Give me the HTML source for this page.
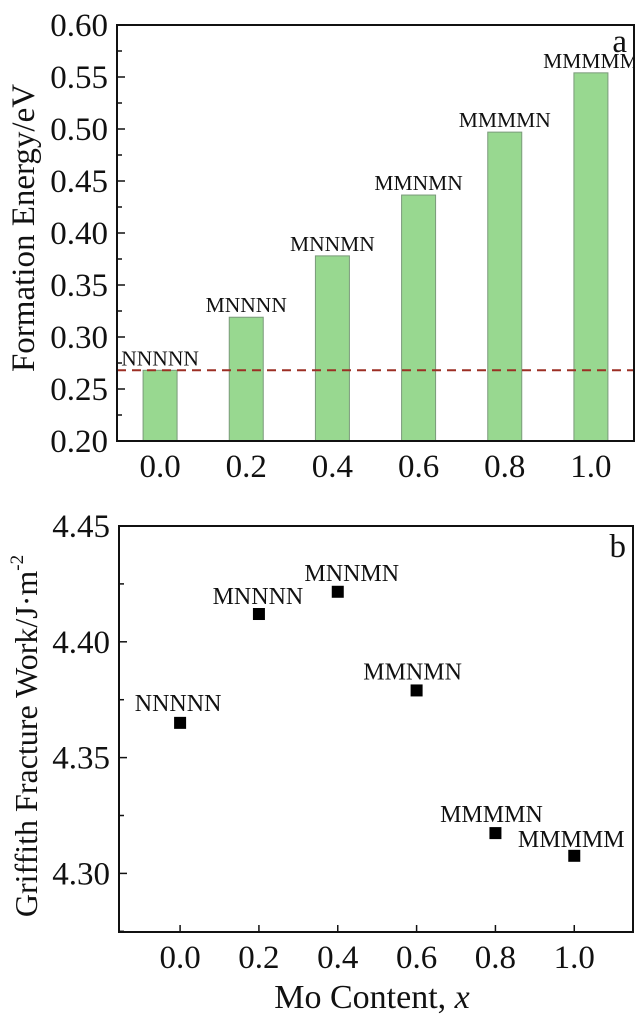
<!DOCTYPE html>
<html><head><meta charset="utf-8">
<style>
html,body{margin:0;padding:0;background:#fff;}
svg{display:block;font-family:"Liberation Serif",serif;}
</style></head>
<body>
<svg id="fig" width="637" height="1032" viewBox="0 0 637 1032" xmlns="http://www.w3.org/2000/svg"></svg>
<script>
// Panel a data
const catsA = [0.0, 0.2, 0.4, 0.6, 0.8, 1.0];
const energyA = [0.268, 0.319, 0.378, 0.4365, 0.497, 0.554];
const labelsA = ["NNNNN", "MNNNN", "MNNMN", "MMNMN", "MMMMN", "MMMMM"];
const refLineA = 0.268;
const yTicksA = [0.20, 0.25, 0.30, 0.35, 0.40, 0.45, 0.50, 0.55, 0.60];
const xTicksA = [0.0, 0.2, 0.4, 0.6, 0.8, 1.0];
// Panel b data
const catsB = [0.0, 0.2, 0.4, 0.6, 0.8, 1.0];
const workB = [4.365, 4.412, 4.4216, 4.379, 4.3174, 4.3076];
const labelsB = ["NNNNN", "MNNNN", "MNNMN", "MMNMN", "MMMMN", "MMMMM"];
const yTicksB = [4.30, 4.35, 4.40, 4.45];
const xTicksB = [0.0, 0.2, 0.4, 0.6, 0.8, 1.0];

const NS = "http://www.w3.org/2000/svg";
const svg = document.getElementById("fig");
function mk(tag, attrs, parent) {
  const e = document.createElementNS(NS, tag);
  for (const k in attrs) e.setAttribute(k, attrs[k]);
  (parent || svg).appendChild(e);
  return e;
}

// ---------- Panel a ----------
const A = {l:117, r:634, t:25, b:441, x0:-0.1, x1:1.1, y0:0.20, y1:0.60};
const xa = v => A.l + (v - A.x0) / (A.x1 - A.x0) * (A.r - A.l);
const ya = v => A.b - (v - A.y0) / (A.y1 - A.y0) * (A.b - A.t);
const gA = mk("g", {});


const defs = mk("defs", {});
const cp = mk("clipPath", {id:"clipA"}, defs);
mk("rect", {x:A.l, y:A.t, width:A.r-A.l, height:A.b-A.t}, cp);

catsA.forEach((c, i) => {
  const bar = mk("rect", {x:xa(c)-17, y:ya(energyA[i]), width:34, height:A.b-ya(energyA[i]), fill:"#98d890", stroke:"#7a9a7a", "stroke-width":1}, gA);
  
  
  const t = mk("text", {x:xa(c), y:ya(energyA[i])-5, "text-anchor":"middle", "font-size":21.5, fill:"#111", "clip-path":"url(#clipA)"}, gA);
  t.textContent = labelsA[i];
  
  
});
const dl = mk("line", {x1:A.l, x2:A.r, y1:ya(refLineA), y2:ya(refLineA), stroke:"#9c2f24", "stroke-width":2, "stroke-dasharray":"9,6"}, gA);


const frA = mk("rect", {x:A.l, y:A.t, width:A.r-A.l, height:A.b-A.t, fill:"none", stroke:"#111", "stroke-width":2}, gA);


yTicksA.forEach((v, i) => {
  mk("line", {x1:A.l, x2:A.l+8, y1:ya(v), y2:ya(v), stroke:"#111", "stroke-width":1.5}, gA);
  if (i < yTicksA.length - 1) {
    const m = v + 0.025;
    mk("line", {x1:A.l, x2:A.l+5, y1:ya(m), y2:ya(m), stroke:"#111", "stroke-width":1.5}, gA);
  }
  const t = mk("text", {x:A.l-9, y:ya(v)+11, "text-anchor":"end", "font-size":33, fill:"#111"}, gA);
  t.textContent = v.toFixed(2);
  
  
});
xTicksA.forEach(v => {
  const t = mk("text", {x:xa(v), y:477, "text-anchor":"middle", "font-size":33, fill:"#111"}, gA);
  t.textContent = v.toFixed(1);
  
  
});
const ytA = mk("text", {x:0, y:0, transform:"translate(34,228) rotate(-90)", "text-anchor":"middle", "font-size":33, fill:"#111"}, gA);
ytA.textContent = "Formation Energy/eV";


const pa = mk("text", {x:627, y:52, "text-anchor":"end", "font-size":33, fill:"#111"}, gA);
pa.textContent = "a";



// ---------- Panel b ----------
const B = {l:119, r:633, t:526, b:932, x0:-0.155, x1:1.149, y0:4.2747, y1:4.45};
const xb = v => B.l + (v - B.x0) / (B.x1 - B.x0) * (B.r - B.l);
const yb = v => B.b - (v - B.y0) / (B.y1 - B.y0) * (B.b - B.t);
const gB = mk("g", {});


const frB = mk("rect", {x:B.l, y:B.t, width:B.r-B.l, height:B.b-B.t, fill:"none", stroke:"#111", "stroke-width":2}, gB);


const labOff = [[-2,-12],[-1,-10],[14,-11],[-4,-11],[-4,-11],[-3,-9]];
catsB.forEach((c, i) => {
  const px = xb(c), py = yb(workB[i]);
  const m = mk("rect", {x:px-6, y:py-6, width:12, height:12, fill:"#000"}, gB);
  
  
  const t = mk("text", {x:px+labOff[i][0], y:py+labOff[i][1], "text-anchor":"middle", "font-size":24, fill:"#111"}, gB);
  t.textContent = labelsB[i];
  
  
});
yTicksB.forEach(v => {
  mk("line", {x1:B.l, x2:B.l+8, y1:yb(v), y2:yb(v), stroke:"#111", "stroke-width":1.5}, gB);
  const m = v - 0.025;
  if (yb(m) < B.b) mk("line", {x1:B.l, x2:B.l+5, y1:yb(m), y2:yb(m), stroke:"#111", "stroke-width":1.5}, gB);
  const t = mk("text", {x:B.l-9, y:yb(v)+11, "text-anchor":"end", "font-size":33, fill:"#111"}, gB);
  t.textContent = v.toFixed(2);
  
  
});
xTicksB.forEach(v => {
  mk("line", {x1:xb(v), x2:xb(v), y1:B.b, y2:B.b-7, stroke:"#111", "stroke-width":1.5}, gB);
  const t = mk("text", {x:xb(v), y:968, "text-anchor":"middle", "font-size":33, fill:"#111"}, gB);
  t.textContent = v.toFixed(1);
  
  
});
const ytB = mk("text", {x:0, y:0, transform:"translate(37,736) rotate(-90)", "text-anchor":"middle", "font-size":32, fill:"#111"}, gB);
ytB.innerHTML = 'Griffith Fracture Work/J·m<tspan dy="-14" font-size="19">-2</tspan>';


const xt = mk("text", {x:372, y:1008, "text-anchor":"middle", "font-size":34, fill:"#111"}, gB);
xt.innerHTML = 'Mo Content, <tspan font-style="italic">x</tspan>';


const pb = mk("text", {x:626, y:557, "text-anchor":"end", "font-size":33, fill:"#111"}, gB);
pb.textContent = "b";


</script>
</body></html>
